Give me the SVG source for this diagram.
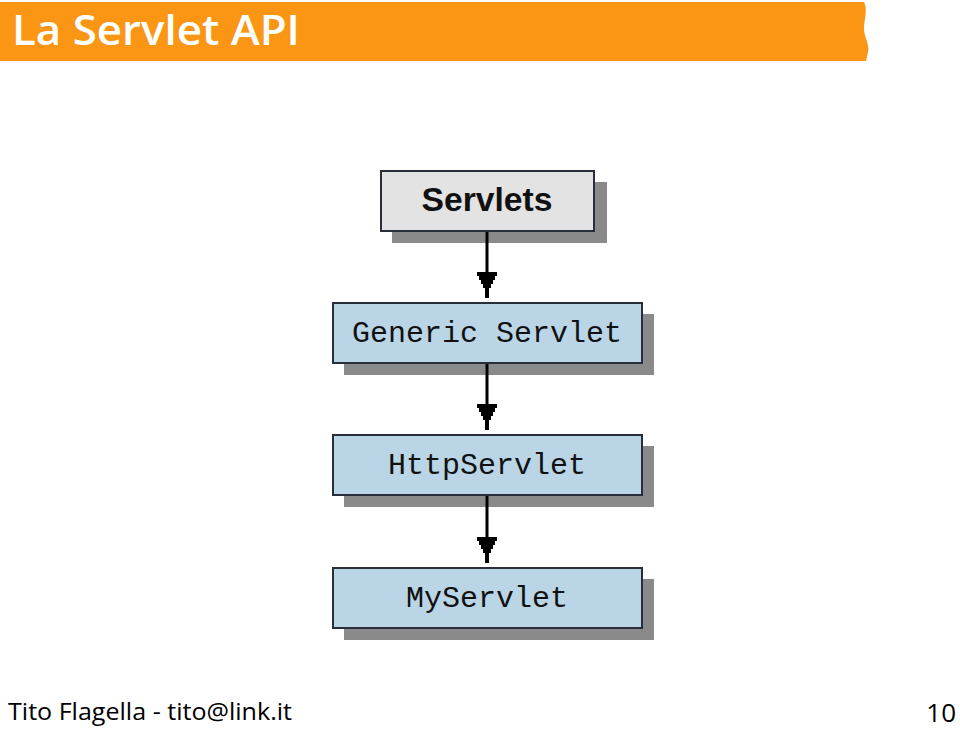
<svg xmlns="http://www.w3.org/2000/svg" width="960" height="729" viewBox="0 0 960 729">
<style>
.shadow{fill:#8a8a8a}
.box{stroke:#2a2d3a;stroke-width:2}
.blue{fill:#b9d5e6}
.gray{fill:#e2e3e2}
.mono{font-family:"Liberation Mono","DejaVu Sans Mono",monospace;font-size:30px;fill:#111;text-anchor:middle}
.conn line{stroke:#000;stroke-width:3}
.head{fill:#000}
</style>
<rect width="960" height="729" fill="#fff"/>
<g id="header">
<path d="M0,2 H864 C868,10 864,20 864,28 C864,38 870,44 868,52 L866,61 H0 Z" fill="#fb9614"/>
<text x="12" y="45" font-family="'Open Sans','Liberation Sans',sans-serif" font-weight="600" font-size="42" fill="#fff" textLength="288" lengthAdjust="spacingAndGlyphs">La Servlet API</text>
</g>
<g id="servlets">
<rect class="shadow" x="392" y="182" width="215" height="61"/>
<rect class="box gray" x="381" y="171" width="213" height="60"/>
<text x="487" y="211" font-family="'Liberation Sans',sans-serif" font-weight="bold" font-size="33" fill="#111" text-anchor="middle" textLength="131" lengthAdjust="spacingAndGlyphs">Servlets</text>
</g>
<g id="generic">
<rect class="shadow" x="344" y="314" width="310" height="61"/>
<rect class="box blue" x="333" y="303" width="309" height="60"/>
<text class="mono" x="487" y="342">Generic Servlet</text>
</g>
<g id="http">
<rect class="shadow" x="344" y="446" width="310" height="61"/>
<rect class="box blue" x="333" y="435" width="309" height="60"/>
<text class="mono" x="487" y="474">HttpServlet</text>
</g>
<g id="my">
<rect class="shadow" x="344" y="579" width="310" height="61"/>
<rect class="box blue" x="333" y="568" width="309" height="60"/>
<text class="mono" x="487" y="607">MyServlet</text>
</g>
<defs>
<path id="ah" d="M-10,0 H10 V4 H8 V8 H6 V12 H4 V16 H2 V26 H-2 V16 H-4 V12 H-6 V8 H-8 V4 H-10 Z"/>
</defs>
<g class="conn" id="connectors">
<line x1="487" y1="232" x2="487" y2="274"/>
<use href="#ah" class="head" x="487" y="272"/>
<line x1="487" y1="364" x2="487" y2="406"/>
<use href="#ah" class="head" x="487" y="404"/>
<line x1="487" y1="496" x2="487" y2="539"/>
<use href="#ah" class="head" x="487" y="537"/>
</g>
<g id="footer">
<text x="8" y="720" font-family="'Open Sans','Liberation Sans',sans-serif" font-size="24" fill="#000" textLength="284" lengthAdjust="spacingAndGlyphs">Tito Flagella - tito@link.it</text>
<text x="956" y="722" font-family="'Open Sans','Liberation Sans',sans-serif" font-size="26" fill="#000" text-anchor="end">10</text>
</g>
</svg>
